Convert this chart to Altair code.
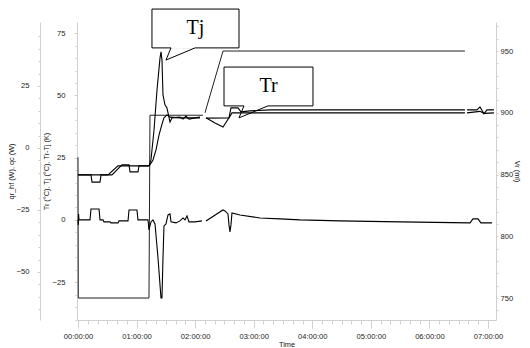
import altair as alt
import pandas as pd

# ---------------- data (time in hours) ----------------
tr_seg1_h = [0, 0.512, 0.683, 1.195, 1.229, 1.28, 1.332, 1.383, 1.434, 1.468, 1.519, 1.571, 1.741, 1.912, 2.083]
tr_seg1_v = [18.1, 18.1, 21.7, 21.7, 22.1, 24.1, 28.1, 34.1, 38.5, 41.0, 42.2, 41.3, 41.0, 41.0, 41.0]
tr_seg2_h = [2.185, 2.578, 2.629, 3.107, 4.644, 6.607]
tr_seg2_v = [40.9, 41.0, 43.0, 43.0, 43.0, 43.0]
tr_seg3_h = [6.641, 6.863, 6.932, 7.102]
tr_seg3_v = [43.0, 43.6, 42.8, 43.0]

tj_seg1_h = [0, 0.222, 0.239, 0.376, 0.393, 0.58, 0.751, 0.871, 0.888, 1.024, 1.041, 1.212,
             1.246, 1.298, 1.349, 1.4, 1.417, 1.434, 1.451, 1.485, 1.519, 1.537, 1.571, 1.605,
             1.741, 1.793, 1.844, 1.895, 1.998, 2.083]
tj_seg1_v = [18.1, 18.1, 15.2, 15.2, 18.1, 18.1, 22.1, 22.1, 19.3, 19.3, 21.7, 21.7,
             24.1, 36.1, 52.2, 65.0, 67.5, 64.2, 50.2, 46.2, 45.0, 43.0, 39.3, 41.0,
             41.3, 40.5, 41.7, 40.5, 41.0, 41.3]
tj_seg2_h = [2.185, 2.339, 2.476, 2.578, 2.612, 2.732, 2.783, 2.937, 3.278, 6.607]
tj_seg2_v = [41.0, 38.9, 37.3, 41.0, 45.0, 45.0, 43.4, 43.8, 44.2, 44.2]
tj_seg3_h = [6.641, 6.812, 6.863, 6.932, 6.983, 7.102]
tj_seg3_v = [44.2, 44.2, 45.4, 42.6, 44.2, 44.2]

trtj_seg1_h = [0, 0.005, 0.01, 0.017, 0.205, 0.222, 0.359, 0.376, 0.427, 0.444, 0.546, 0.563,
               0.683, 0.7, 0.854, 0.871, 1.007, 1.024, 1.195, 1.212, 1.246, 1.28, 1.315, 1.366,
               1.417, 1.434, 1.451, 1.468, 1.502, 1.537, 1.571, 1.588, 1.673, 1.741, 1.793, 1.827,
               1.861, 1.895, 1.998, 2.117]
trtj_seg1_v = [0, -2, 2.4, 0, 0, 4.4, 4.4, 0, 0, -0.8, -0.8, -1.2,
               -1.2, -0.4, -0.4, 4.0, 4.0, 0, 0, -4, -0.8, 0, -1.6, -15.3,
               -31.3, -31.3, -15.3, -2.4, -1.6, 2.0, 2.4, -0.8, -1.2, -0.4, 0.8, 0,
               1.6, -0.8, -0.8, -0.4]
trtj_seg2_h = [2.185, 2.475, 2.51, 2.561, 2.578, 2.595, 2.612, 2.629, 2.766, 3.107, 3.449, 3.79,
               4.473, 5.498, 6.693, 6.744, 6.829, 6.88, 7.068]
trtj_seg2_v = [-0.4, 4.0, 3.6, 2.4, -2, -4.8, -2, 2.8, 2.0, 0.8, 0.4, 0,
               -0.4, -0.8, -1.2, 0.4, 0.4, -1.2, -1.2]

vr_seg1_h = [0, 0.005, 1.212, 1.229, 2.134]
vr_seg1_v = [864, 750, 750, 898, 898]
vr_seg2_h = [2.168, 2.476, 6.607]
vr_seg2_v = [900, 950, 950]

qr_ticks = [-50, -25, 0, 25]

callout_text = ["Tj", "Tr"]
box_x1 = [1.263, 2.493]
box_x2 = [2.749, 4.012]
box_top = [84.7, 61.4]
box_bottom = [69.1, 45.8]
text_x = [2.006, 3.253]
text_y = [76.9, 53.6]
tail_base1 = [1.588, 2.834]
tail_tip_x = [1.502, 2.749]
tail_tip_y = [64.2, 41.0]
tail_base2 = [1.998, 3.244]

# ---------------- tables ----------------
def seg_rows(name, seg, hs, vs):
    return [{"key": f"{name}{seg}", "h": h, "v": v} for h, v in zip(hs, vs)]

rows = []
rows += seg_rows("Tr", 1, tr_seg1_h, tr_seg1_v)
rows += seg_rows("Tr", 2, tr_seg2_h, tr_seg2_v)
rows += seg_rows("Tr", 3, tr_seg3_h, tr_seg3_v)
rows += seg_rows("Tj", 1, tj_seg1_h, tj_seg1_v)
rows += seg_rows("Tj", 2, tj_seg2_h, tj_seg2_v)
rows += seg_rows("Tj", 3, tj_seg3_h, tj_seg3_v)
rows += seg_rows("TrTj", 1, trtj_seg1_h, trtj_seg1_v)
rows += seg_rows("TrTj", 2, trtj_seg2_h, trtj_seg2_v)
temp_df = pd.DataFrame(rows)

vr_df = pd.DataFrame(seg_rows("Vr", 1, vr_seg1_h, vr_seg1_v) + seg_rows("Vr", 2, vr_seg2_h, vr_seg2_v))
qr_df = pd.DataFrame({"h": [0] * len(qr_ticks), "v": qr_ticks})

box_df = pd.DataFrame({"x1": box_x1, "x2": box_x2, "v": box_top, "v2": box_bottom})
text_df = pd.DataFrame({"h": text_x, "v": text_y, "t": callout_text})
seg_list = []
for i in range(len(callout_text)):
    seg_list.append({"h": tail_base1[i], "v": box_bottom[i], "h2": tail_tip_x[i], "v2": tail_tip_y[i]})
    seg_list.append({"h": tail_tip_x[i], "v": tail_tip_y[i], "h2": tail_base2[i], "v2": box_bottom[i]})
tail_df = pd.DataFrame(seg_list)
cover_df = pd.DataFrame({"h": tail_base1, "h2": tail_base2, "v": box_bottom})

# ---------------- scales / axes ----------------
X_DOM = [-0.017, 7.137]
T_DOM = [-40.2, 79.5]
Q_DOM = [-69.4, 50.8]
V_DOM = [732.2, 973.5]

GRAY = "#d0d0d0"
LBL = "#222222"
FONT = "Liberation Sans"
FS = 7.6

common = dict(labelOverlap=False, labelFlush=False, domainColor=GRAY, tickColor=GRAY,
              labelColor=LBL, labelFont=FONT, labelFontSize=FS, titleFont=FONT,
              titleFontSize=7.3, titleFontWeight="normal", titleColor="#111111", grid=False)

x_ticks = [i / 6 for i in range(43)]
is_hour = "abs(datum.value - round(datum.value)) < 0.01"
x_axis = alt.Axis(
    title="Time", values=x_ticks,
    labelExpr=f"{is_hour} ? '0' + round(datum.value) + ':00:00' : ''",
    tickSize={"condition": {"test": is_hour, "value": 8}, "value": 4},
    labelPadding=4, titlePadding=1, **common)
xs = alt.Scale(domain=X_DOM, nice=False, zero=False)
X = alt.X("h:Q", scale=xs, axis=x_axis)

t_axis = alt.Axis(
    orient="left", title="Tr (°C), Tj (°C), Tr-Tj (K)", values=list(range(-40, 80, 5)),
    labelExpr="datum.value % 25 == 0 ? datum.label : ''",
    tickSize={"condition": {"test": "datum.value % 25 == 0", "value": 3}, "value": 2},
    labelPadding=9, titlePadding=2, **common)
ts = alt.Scale(domain=T_DOM, nice=False, zero=False)
YT = alt.Y("v:Q", scale=ts, axis=t_axis)

q_axis = alt.Axis(
    orient="left", offset=37, title="qr_hf (W), qc (W)", values=list(range(-65, 50, 5)),
    labelExpr="datum.value % 25 == 0 ? datum.label : ''",
    tickSize={"condition": {"test": "datum.value % 25 == 0", "value": 3}, "value": 2},
    labelPadding=8, titlePadding=1, **common)
v_axis = alt.Axis(
    orient="right", title="Vr (ml)", values=list(range(740, 980, 10)),
    labelExpr="datum.value % 50 == 0 ? datum.label : ''",
    tickSize={"condition": {"test": "datum.value % 50 == 0", "value": 2}, "value": 2},
    labelPadding=2, titlePadding=0, **common)

# ---------------- layers ----------------
temp_lines = alt.Chart(temp_df).mark_line(color="black", strokeWidth=1.1).encode(
    x=X, y=YT, detail="key:N", order=alt.Order("h:Q"))
boxes = alt.Chart(box_df).mark_rect(fill="white", stroke="black", strokeWidth=1).encode(
    x=alt.X("x1:Q", scale=xs, axis=x_axis), x2="x2:Q", y=YT, y2="v2:Q")
covers = alt.Chart(cover_df).mark_rule(color="white", strokeWidth=2).encode(
    x=alt.X("h:Q", scale=xs, axis=x_axis), x2="h2:Q", y=YT)
tails = alt.Chart(tail_df).mark_rule(color="black", strokeWidth=1).encode(
    x=X, x2="h2:Q", y=YT, y2="v2:Q")
labels = alt.Chart(text_df).mark_text(font="Liberation Serif", fontSize=20, color="black",
                                      baseline="middle", align="center").encode(
    x=X, y=YT, text="t:N")
temp_group = alt.layer(temp_lines, boxes, covers, tails, labels)

qr_layer = alt.Chart(qr_df).mark_point(opacity=0).encode(
    x=X, y=alt.Y("v:Q", scale=alt.Scale(domain=Q_DOM, nice=False, zero=False), axis=q_axis))

vr_layer = alt.Chart(vr_df).mark_line(color="#222222", strokeWidth=1).encode(
    x=X, y=alt.Y("v:Q", scale=alt.Scale(domain=V_DOM, nice=False, zero=False), axis=v_axis),
    detail="key:N", order=alt.Order("h:Q"))

chart = alt.layer(vr_layer, temp_group, qr_layer).resolve_scale(y="independent").properties(
    width=419, height=298,
    autosize=alt.AutoSizeParams(type="none"),
    padding={"left": 69, "top": 14, "right": 26, "bottom": 28},
    background="white",
).configure_view(stroke=None)

chart.save("out.html", embed_options={"renderer": "svg", "actions": False})
